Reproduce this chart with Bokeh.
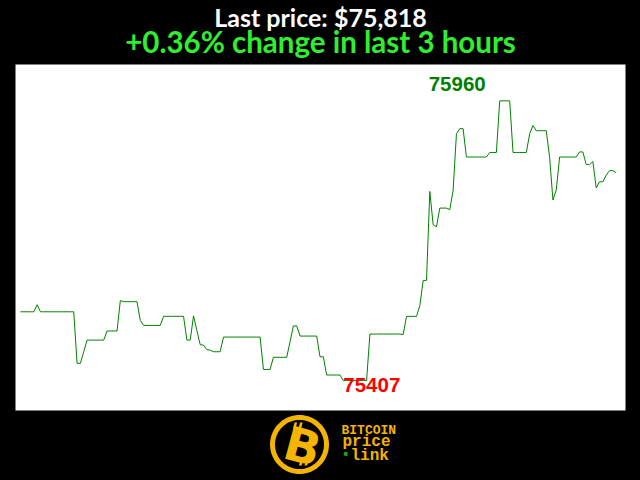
import math
from bokeh.plotting import figure
from bokeh.models import Range1d, Label, PolyAnnotation, BoxAnnotation
from bokeh.core.properties import value
from bokeh.embed import file_html
from bokeh.resources import INLINE

# ---------------- data (one point per minute, last 3 hours) ----------------
minutes = list(range(180))
prices = [
    75543, 75543, 75543, 75543, 75543, 75557, 75543, 75543, 75543, 75543,
    75543, 75543, 75543, 75543, 75543, 75543, 75543, 75441, 75441, 75464,
    75487, 75487, 75487, 75487, 75487, 75487, 75505, 75505, 75505, 75505,
    75565, 75563, 75563, 75563, 75563, 75563, 75526, 75516, 75516, 75516,
    75516, 75516, 75516, 75534, 75534, 75534, 75534, 75534, 75534, 75534,
    75487, 75487, 75535, 75506, 75478, 75477, 75468, 75467, 75464, 75464,
    75464, 75493, 75493, 75493, 75493, 75493, 75493, 75493, 75493, 75493,
    75493, 75493, 75493, 75429, 75429, 75429, 75453, 75453, 75453, 75453,
    75453, 75484, 75515, 75515, 75495, 75495, 75495, 75495, 75495, 75495,
    75454, 75454, 75418, 75418, 75418, 75418, 75418, 75407, 75407, 75407,
    75407, 75407, 75407, 75407, 75407, 75499, 75499, 75499, 75499, 75499,
    75499, 75499, 75499, 75499, 75499, 75498, 75534, 75534, 75534, 75534,
    75555, 75605, 75605, 75781, 75715, 75711, 75748, 75748, 75748, 75745,
    75783, 75895, 75905, 75905, 75849, 75849, 75849, 75849, 75849, 75849,
    75849, 75858, 75858, 75858, 75960, 75960, 75960, 75960, 75858, 75858,
    75858, 75858, 75858, 75895, 75911, 75901, 75901, 75901, 75901, 75848,
    75764, 75784, 75849, 75849, 75849, 75849, 75849, 75849, 75859, 75859,
    75834, 75834, 75840, 75788, 75800, 75800, 75813, 75822, 75822, 75818,
]
title_text = "Last price: $75,818"
subtitle_text = "+0.36% change in last 3 hours"
logo_lines = ["BITCOIN", "price", "link"]

# ---------------- layout ----------------
W, H = 640, 480
PL, PR, PT, PB = 15, 625, 64, 410   # white plot area in canvas pixels
GOLD = "#f4b400"

pmax, pmin = max(prices), min(prices)
imax, imin = prices.index(pmax), prices.index(pmin)
span = pmax - pmin

# data extents of the white plot area
x0, x1 = minutes[0] - 1.5, minutes[-1] + 2.8
y0, y1 = pmin - 0.107 * span, pmax + 0.13 * span
# extend ranges so the whole canvas is the frame
xs_per_px = (x1 - x0) / (PR - PL)
ys_per_px = (y1 - y0) / (PB - PT)
xr = Range1d(x0 - PL * xs_per_px, x1 + (W - PR) * xs_per_px)
yr = Range1d(y0 - (H - PB) * ys_per_px, y1 + PT * ys_per_px)

p = figure(width=W, height=H, output_backend="svg", toolbar_location=None,
           x_axis_type=None, y_axis_type=None, x_range=xr, y_range=yr,
           min_border=0, border_fill_color="black", background_fill_color="black",
           outline_line_color=None)

p.add_layout(BoxAnnotation(left=x0, right=x1, bottom=y0, top=y1,
                           fill_color="white", fill_alpha=1, line_color=None,
                           level="underlay"))

p.line(minutes, prices, line_color="#008000", line_width=1)

p.text(x=[imax], y=[pmax], text=[str(pmax)], text_color="#008000",
       text_font=value("Liberation Sans"), text_font_style="bold",
       text_font_size="20.5px", text_align="right", text_baseline="alphabetic",
       x_offset=-14, y_offset=-17)
p.text(x=[imin], y=[pmin], text=[str(pmin)], text_color="#ff0000",
       text_font=value("Liberation Sans"), text_font_style="bold",
       text_font_size="20.5px", text_align="left", text_baseline="alphabetic",
       x_offset=0, y_offset=4)

# canvas pixel -> screen units (from bottom-left of frame == canvas)
def fx(X):
    return X
def fy(Y):
    return H - Y

def label(X, Y, text, font, size, color, align="left", baseline="alphabetic", style="bold", **kw):
    p.add_layout(Label(x=fx(X), y=fy(Y), x_units="screen", y_units="screen",
                       text=text, text_align=align, text_baseline=baseline,
                       text_font=font, text_font_style=style, text_font_size=size,
                       text_color=color, **kw))

label(320, 16, title_text, "Lato", "25px", "white", align="center")
label(320, 41, subtitle_text, "Lato", "29.5px", "#30ee30", align="center")

# logo ring
cx, cy = 299, 444
def poly(pts, col):
    p.add_layout(PolyAnnotation(xs=[fx(a) for a, b in pts], ys=[fy(b) for a, b in pts],
                                xs_units="screen", ys_units="screen",
                                fill_color=col, fill_alpha=1, line_color=None))
def disc(r):
    n = 72
    return [(cx + r * math.cos(2 * math.pi * k / n), cy + r * math.sin(2 * math.pi * k / n))
            for k in range(n)]
poly(disc(29.5), GOLD)
poly(disc(24.5), "black")

# bitcoin bars (tilted), above and below the B
def bar(xb, yt, h=6.0, w=2.6, tilt=0.25):
    dx = h * tilt
    return [(xb + dx, yt), (xb + dx + w, yt), (xb + w, yt + h), (xb, yt + h)]
poly(bar(292.5, 422), GOLD)
poly(bar(298.0, 422), GOLD)
poly(bar(298.5, 459), GOLD)
poly(bar(304.0, 459), GOLD)
label(302, 446, "B", "DejaVu Sans", "47px", GOLD, align="center", baseline="middle", angle=-0.26)

label(341, 429.5, logo_lines[0], "Liberation Mono", "13px", GOLD)
label(342, 441.5, logo_lines[1], "Liberation Mono", "16px", GOLD)
label(341, 454.5, "\u2022", "Liberation Mono", "14px", "#1aa01a")
label(350, 455, logo_lines[2], "Liberation Mono", "16px", GOLD)

html = file_html(p, INLINE)
html = html.replace("</head>", "<style>html,body{margin:0;padding:0;background:#000;overflow:hidden;}</style></head>", 1)
open("out.html", "w").write(html)
